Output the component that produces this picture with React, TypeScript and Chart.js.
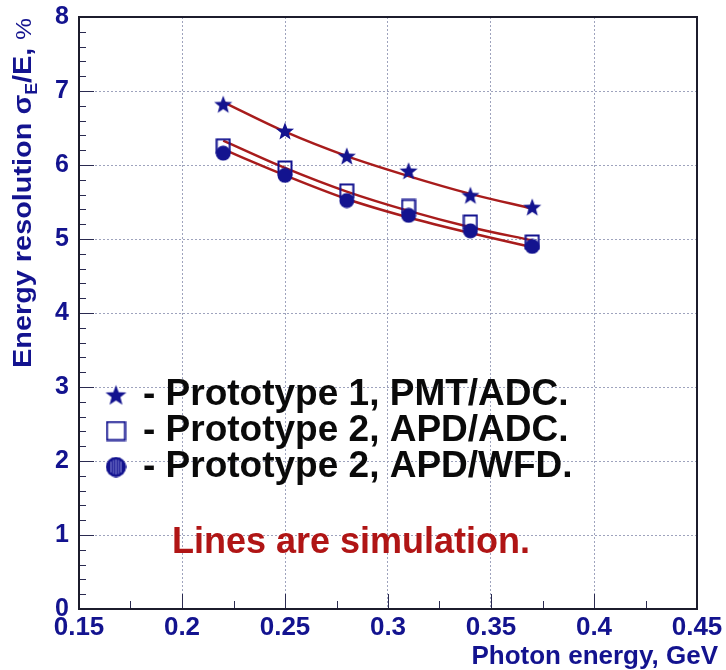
import React, { useEffect, useRef } from "react";
import { Chart, registerables } from "chart.js";

Chart.register(...registerables);

const energies = [0.22, 0.25, 0.28, 0.31, 0.34, 0.37];
const proto1PmtAdc = [6.82, 6.46, 6.12, 5.92, 5.59, 5.43];
const proto2ApdAdc = [6.26, 5.96, 5.65, 5.44, 5.23, 4.96];
const proto2ApdWfd = [6.16, 5.86, 5.52, 5.32, 5.11, 4.9];
const simProto1 = [6.85, 6.45, 6.12, 5.85, 5.61, 5.41];
const simProto2Adc = [6.33, 5.96, 5.64, 5.38, 5.16, 4.98];
const simProto2Wfd = [6.21, 5.86, 5.54, 5.29, 5.08, 4.89];

const xTicks = [0.15, 0.2, 0.25, 0.3, 0.35, 0.4, 0.45];
const yTicks = [0, 1, 2, 3, 4, 5, 6, 7, 8];

const legendLabels = [
  "- Prototype 1, PMT/ADC.",
  "- Prototype 2, APD/ADC.",
  "- Prototype 2, APD/WFD.",
];
const noteText = "Lines are simulation.";
const xTitle = "Photon energy, GeV";

const NAVY = "#13138f";
const RED = "#a81c1c";
const FONT = "'Liberation Sans', Arial, Helvetica, sans-serif";

function makeStar(size: number) {
  const c = document.createElement("canvas");
  c.width = size;
  c.height = size;
  const g = c.getContext("2d")!;
  const cx = size / 2, cy = size / 2 + size * 0.04;
  const R = size / 2 - 0.5, r = R * 0.42;
  g.beginPath();
  for (let i = 0; i < 10; i++) {
    const rad = i % 2 === 0 ? R : r;
    const a = -Math.PI / 2 + (i * Math.PI) / 5;
    const px = cx + rad * Math.cos(a), py = cy + rad * Math.sin(a);
    if (i === 0) g.moveTo(px, py); else g.lineTo(px, py);
  }
  g.closePath();
  g.fillStyle = NAVY;
  g.fill();
  return c;
}

function makeSquare(size: number) {
  const c = document.createElement("canvas");
  c.width = size;
  c.height = size;
  const g = c.getContext("2d")!;
  g.strokeStyle = NAVY;
  g.lineWidth = 2;
  g.strokeRect(1.5, 1.5, size - 3, size - 3);
  return c;
}

function makeCircle(size: number, hatch: boolean) {
  const c = document.createElement("canvas");
  c.width = size;
  c.height = size;
  const g = c.getContext("2d")!;
  g.beginPath();
  g.arc(size / 2, size / 2, size / 2 - 0.5, 0, Math.PI * 2);
  g.fillStyle = NAVY;
  g.fill();
  if (hatch) {
    g.save();
    g.beginPath();
    g.arc(size / 2, size / 2, size / 2 - 3, 0, Math.PI * 2);
    g.clip();
    g.strokeStyle = "#8a8ad8";
    g.lineWidth = 1;
    for (let i = -2; i <= 2; i++) {
      g.beginPath();
      g.moveTo(size / 2 + i * 2.5, 0);
      g.lineTo(size / 2 + i * 2.5, size);
      g.stroke();
    }
    g.restore();
    g.beginPath();
    g.arc(size / 2, size / 2, size / 2 - 1.5, 0, Math.PI * 2);
    g.strokeStyle = NAVY;
    g.lineWidth = 2;
    g.stroke();
  }
  return c;
}

export default function App() {
  const ref = useRef<HTMLCanvasElement | null>(null);

  useEffect(() => {
    if (!ref.current) return;
    const starImg = makeStar(20);
    const squareImg = makeSquare(16);
    const circleImg = makeCircle(16, false);
    const legStar = makeStar(23);
    const legSquare = makeSquare(21);
    const legCircle = makeCircle(21, true);

    const pts = (ys: number[]) => energies.map((e, i) => ({ x: e, y: ys[i] }));

    const decor = {
      id: "decor",
      afterDraw(chart: any) {
        const { ctx, chartArea, scales } = chart;
        const { left, top, right, bottom } = chartArea;
        const xs = scales.x, ys = scales.y;
        ctx.save();
        ctx.strokeStyle = "#2a2a50";
        ctx.lineWidth = 1;
        for (let i = 0; i <= 40; i++) {
          const py = Math.round(ys.getPixelForValue(i * 0.2)) + 0.5;
          const len = i % 5 === 0 ? 15 : 7;
          ctx.beginPath();
          ctx.moveTo(left, py);
          ctx.lineTo(left + len, py);
          ctx.stroke();
        }
        for (let i = 0; i <= 12; i++) {
          const px = Math.round(xs.getPixelForValue(0.15 + i * 0.025)) + 0.5;
          const len = i % 2 === 0 ? 15 : 8;
          ctx.beginPath();
          ctx.moveTo(px, bottom);
          ctx.lineTo(px, bottom - len);
          ctx.stroke();
        }
        ctx.strokeStyle = "#1c1c2c";
        ctx.lineWidth = 2;
        ctx.strokeRect(left, top, right - left, bottom - top);

        const legendYs = [395, 431, 467];
        const imgs = [legStar, legSquare, legCircle];
        ctx.fillStyle = "#0a0a0a";
        ctx.font = `bold 37px ${FONT}`;
        ctx.textAlign = "left";
        ctx.textBaseline = "alphabetic";
        legendLabels.forEach((t, i) => {
          const im = imgs[i];
          ctx.drawImage(im, 116 - im.width / 2, legendYs[i] - im.height / 2);
          ctx.fillText(t, 143, legendYs[i] + 10);
        });

        ctx.fillStyle = "#b01515";
        ctx.font = `bold 36px ${FONT}`;
        ctx.textAlign = "center";
        ctx.fillText(noteText, 351, 553);

        ctx.fillStyle = NAVY;
        ctx.font = `bold 26px ${FONT}`;
        ctx.textAlign = "right";
        ctx.fillText(xTitle, 718, 664);

        ctx.save();
        ctx.translate(31, 368);
        ctx.rotate(-Math.PI / 2);
        ctx.textAlign = "left";
        const parts = [
          { t: "Energy resolution \u03c3", f: `bold 26px ${FONT}`, dy: 0 },
          { t: "E", f: `bold 16px ${FONT}`, dy: 6 },
          { t: "/E, ", f: `bold 26px ${FONT}`, dy: 0 },
          { t: "%", f: `22px ${FONT}`, dy: 0 },
        ];
        let total = 0;
        const widths = parts.map((p) => {
          ctx.font = p.f;
          const w = ctx.measureText(p.t).width;
          total += w;
          return w;
        });
        const s = 350 / total;
        ctx.scale(s, 1);
        let cx = 0;
        parts.forEach((p, i) => {
          ctx.font = p.f;
          ctx.fillText(p.t, cx, p.dy);
          cx += widths[i];
        });
        ctx.restore();
        ctx.restore();
      },
    };

    const chart = new Chart(ref.current, {
      type: "scatter",
      data: {
        datasets: [
          { label: "Prototype 1, PMT/ADC", data: pts(proto1PmtAdc), pointStyle: starImg as any, order: 0 },
          { label: "Prototype 2, APD/WFD", data: pts(proto2ApdWfd), pointStyle: circleImg as any, order: 1 },
          { label: "Prototype 2, APD/ADC", data: pts(proto2ApdAdc), pointStyle: squareImg as any, order: 2 },
          {
            label: "Simulation P1", data: pts(simProto1), showLine: true, pointRadius: 0,
            borderColor: RED, borderWidth: 2.5, cubicInterpolationMode: "monotone", order: 3,
          } as any,
          {
            label: "Simulation P2 ADC", data: pts(simProto2Adc), showLine: true, pointRadius: 0,
            borderColor: RED, borderWidth: 2.5, cubicInterpolationMode: "monotone", order: 3,
          } as any,
          {
            label: "Simulation P2 WFD", data: pts(simProto2Wfd), showLine: true, pointRadius: 0,
            borderColor: RED, borderWidth: 2.5, cubicInterpolationMode: "monotone", order: 3,
          } as any,
        ],
      },
      options: {
        animation: false,
        responsive: true,
        maintainAspectRatio: false,
        layout: { padding: { top: 17, right: 29, left: 0, bottom: 0 } },
        plugins: { legend: { display: false }, tooltip: { enabled: false } },
        scales: {
          x: {
            type: "linear",
            min: 0.15,
            max: 0.45,
            afterFit: (sc: any) => { sc.height = 61; sc.paddingLeft = 0; sc.paddingRight = 0; },
            afterBuildTicks: (sc: any) => { sc.ticks = xTicks.map((v) => ({ value: v })); },
            ticks: {
              color: NAVY,
              font: { family: FONT, size: 26, weight: "bold" },
              padding: 3,
              maxRotation: 0,
              autoSkip: false,
              callback: (v: any) => String(Number(v)),
            },
            grid: { color: "#9ea3bd", lineWidth: 1, drawTicks: false },
            border: { display: false, dash: [2, 2] },
          },
          y: {
            type: "linear",
            min: 0,
            max: 8,
            afterFit: (sc: any) => { sc.width = 79; sc.paddingTop = 0; sc.paddingBottom = 0; },
            afterBuildTicks: (sc: any) => { sc.ticks = yTicks.map((v) => ({ value: v })); },
            ticks: {
              color: NAVY,
              font: { family: FONT, size: 25, weight: "bold" },
              padding: 10,
              autoSkip: false,
              callback: (v: any) => String(v),
            },
            grid: { color: "#9ea3bd", lineWidth: 1, drawTicks: false },
            border: { display: false, dash: [2, 2] },
          },
        },
      } as any,
      plugins: [decor],
    });
    return () => chart.destroy();
  }, []);

  return (
    <div style={{ position: "fixed", left: 0, top: 0, width: 726, height: 670, background: "#fff" }}>
      <canvas ref={ref} />
    </div>
  );
}
